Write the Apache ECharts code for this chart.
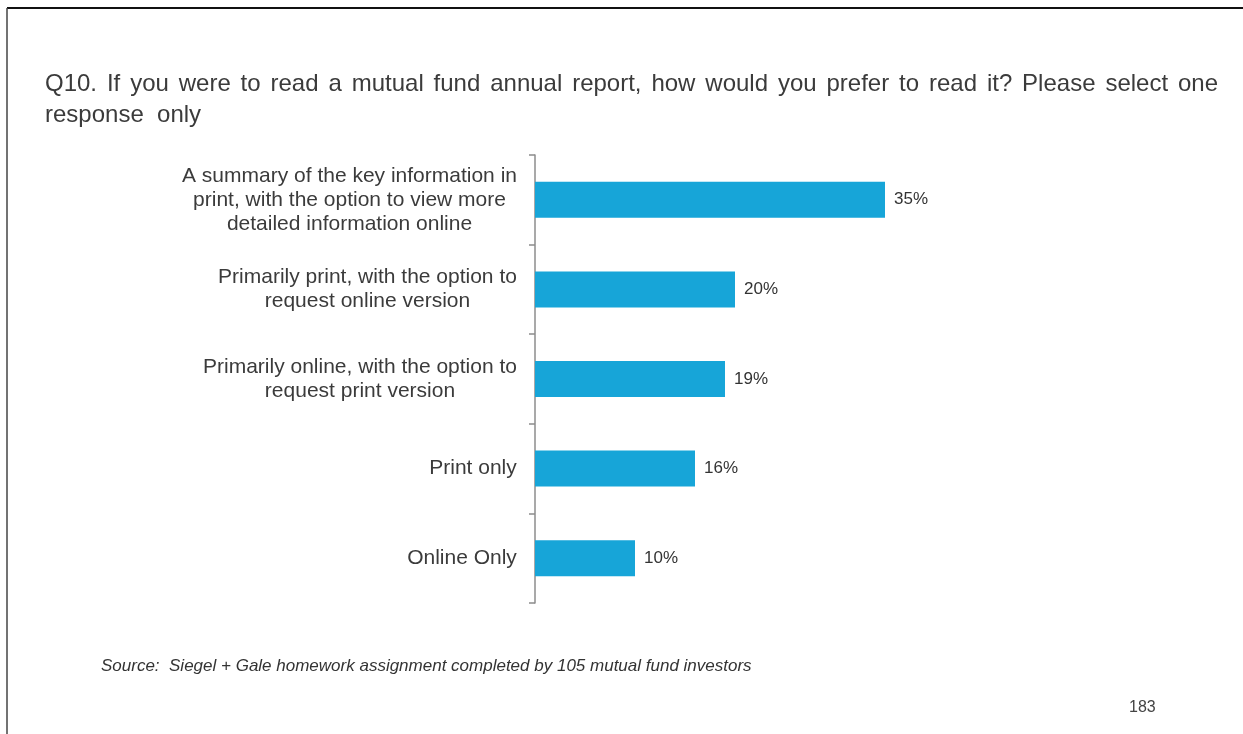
<!DOCTYPE html>
<html>
<head>
<meta charset="utf-8">
<script src="https://cdn.jsdelivr.net/npm/echarts@6/dist/echarts.min.js"></script>
<style>
  html, body { margin: 0; padding: 0; background: #fff; }
  #chart { width: 1243px; height: 734px; }
</style>
</head>
<body>
<div id="chart"></div>
<script>
// Survey answers, top to bottom
const categories = [
  'A summary of the key information in\nprint, with the option to view more\ndetailed information online',
  'Primarily print, with the option to\nrequest online version',
  'Primarily online, with the option to\nrequest print version',
  'Print only',
  'Online Only'
];
// Share of respondents (%)
const shares = [35, 20, 19, 16, 10];

const titleLine1 = 'Q10. If you were to read a mutual fund annual report, how would you prefer to read it? Please select one';
const titleLine2 = 'response  only';
const sourceText = 'Source:  Siegel + Gale homework assignment completed by 105 mutual fund investors';
const pageNumber = '183';

const LABEL_FONT = 'Liberation Sans, Arial, sans-serif';
const LABEL_SIZE = 21;
const TITLE_SIZE = 24;
const TEXT_COLOR = '#3b3b3b';

const ctx = document.createElement('canvas').getContext('2d');

// Measure each label block so its lines can be centred within it
ctx.font = LABEL_SIZE + 'px "Liberation Sans"';
const rich = {};
categories.forEach((c, i) => {
  const w = Math.max(...c.split('\n').map(l => ctx.measureText(l).width));
  rich['c' + i] = {
    width: Math.ceil(w),
    align: 'center',
    fontSize: LABEL_SIZE,
    lineHeight: 24,
    fontFamily: LABEL_FONT,
    color: TEXT_COLOR
  };
});

// Justified first heading line: words spread across the text column
const TITLE_LEFT = 45;
const TITLE_RIGHT = 1218;
ctx.font = TITLE_SIZE + 'px "Liberation Sans"';
const titleWords = titleLine1.split(' ');
const wordWidths = titleWords.map(w => ctx.measureText(w).width);
const gap = (TITLE_RIGHT - TITLE_LEFT - wordWidths.reduce((a, b) => a + b, 0)) / (titleWords.length - 1);
const titleStyle = {
  fontFamily: LABEL_FONT,
  fontSize: TITLE_SIZE,
  fill: TEXT_COLOR,
  verticalAlign: 'middle'
};
const titleGraphics = [];
let tx = TITLE_LEFT;
titleWords.forEach((w, i) => {
  titleGraphics.push({ type: 'text', x: tx, y: 84, style: Object.assign({ text: w }, titleStyle) });
  tx += wordWidths[i] + gap;
});
titleGraphics.push({ type: 'text', x: TITLE_LEFT, y: 115, style: Object.assign({ text: titleLine2 }, titleStyle) });

const chart = echarts.init(document.getElementById('chart'), null, { renderer: 'canvas' });

chart.setOption({
  backgroundColor: '#fff',
  animation: false,
  grid: { left: 535, right: 208, top: 155, bottom: 131, containLabel: false },
  xAxis: {
    type: 'value',
    min: 0,
    max: 50,
    show: false
  },
  yAxis: {
    type: 'category',
    data: categories,
    inverse: true,
    axisLine: { show: true, lineStyle: { color: '#8c8c8c', width: 1.5 } },
    axisTick: { show: true, length: 6, lineStyle: { color: '#8c8c8c', width: 1.5 } },
    axisLabel: {
      margin: 18,
      formatter: (value, index) =>
        value.split('\n').map(l => '{c' + index + '|' + l + '}').join('\n'),
      rich: rich
    },
    splitLine: { show: false }
  },
  series: [{
    type: 'bar',
    data: shares,
    barWidth: 36,
    itemStyle: { color: '#17a5d8' },
    label: {
      show: true,
      position: 'right',
      distance: 9,
      formatter: '{c}%',
      fontFamily: LABEL_FONT,
      fontSize: 17,
      color: '#333'
    }
  }],
  graphic: [
    // page frame
    { type: 'line', shape: { x1: 7, y1: 8, x2: 1243, y2: 8 }, style: { stroke: '#111', lineWidth: 2 } },
    { type: 'line', shape: { x1: 7, y1: 8, x2: 7, y2: 734 }, style: { stroke: '#444', lineWidth: 1.5 } },
    ...titleGraphics,
    {
      type: 'text',
      x: 101,
      y: 666,
      style: {
        text: sourceText,
        fontFamily: LABEL_FONT,
        fontStyle: 'italic',
        fontSize: 17,
        fill: '#333',
        verticalAlign: 'middle'
      }
    },
    {
      type: 'text',
      x: 1129,
      y: 708,
      style: {
        text: pageNumber,
        fontFamily: LABEL_FONT,
        fontSize: 16,
        fill: '#444',
        verticalAlign: 'middle'
      }
    }
  ]
});
</script>
</body>
</html>
